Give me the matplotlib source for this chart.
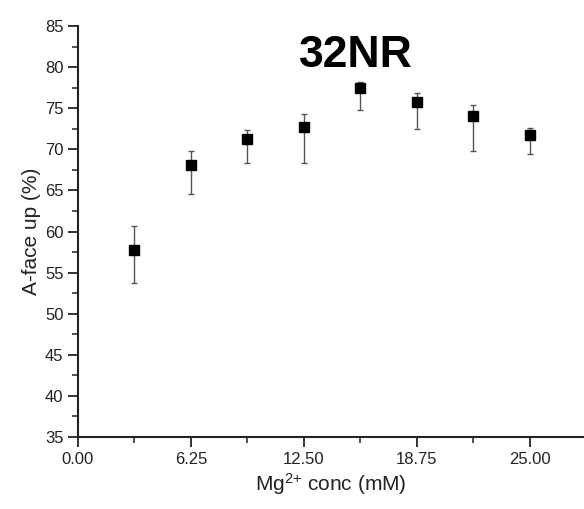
import matplotlib
matplotlib.use("Agg")
import matplotlib.pyplot as plt
from matplotlib.ticker import MultipleLocator, FormatStrFormatter

# Mg2+ concentration (mM) and A-face up percentage
mg_conc = [3.125, 6.25, 9.375, 12.5, 15.625, 18.75, 21.875, 25.0]
a_face_up = [57.7, 68.1, 71.2, 72.7, 77.4, 75.8, 74.0, 71.7]
err_low = [4.0, 3.5, 2.9, 4.4, 2.6, 3.3, 4.2, 2.3]
err_high = [3.0, 1.7, 1.2, 1.6, 0.8, 1.0, 1.4, 0.9]

plt.rcParams['font.family'] = ['Liberation Sans', 'DejaVu Sans']
plt.rcParams['mathtext.fontset'] = 'custom'
plt.rcParams['mathtext.rm'] = 'Liberation Sans'
plt.rcParams['mathtext.it'] = 'Liberation Sans:italic'
plt.rcParams['mathtext.bf'] = 'Liberation Sans:bold'

fig = plt.figure(figsize=(5.84, 5.09), dpi=100)
ax = fig.add_axes([78 / 584, 1 - 437 / 509, 1 - 78 / 584, (437 - 26) / 509])

ax.errorbar(mg_conc, a_face_up, yerr=[err_low, err_high], fmt='s',
            color='black', markersize=7, ecolor='#555555', elinewidth=1.0,
            capsize=2.5, capthick=1.0)

ax.set_xlim(0, 28.0)
ax.set_ylim(35, 85)
ax.xaxis.set_major_locator(MultipleLocator(6.25))
ax.xaxis.set_minor_locator(MultipleLocator(3.125))
ax.xaxis.set_major_formatter(FormatStrFormatter('%.2f'))
ax.yaxis.set_major_locator(MultipleLocator(5))
ax.yaxis.set_minor_locator(MultipleLocator(2.5))

for side in ['top', 'right']:
    ax.spines[side].set_visible(False)
for side in ['left', 'bottom']:
    ax.spines[side].set_linewidth(1.5)
    ax.spines[side].set_color('#222222')

ax.tick_params(which='major', direction='out', length=7, width=1.3,
               labelsize=12, pad=3.5, colors='#222222')
ax.tick_params(which='minor', direction='out', length=4.3, width=1.1,
               colors='#222222')

ax.set_xlabel(r'Mg$^{\mathregular{2{+}}}$ conc (mM)', fontsize=15,
              color='#222222', labelpad=3)
ax.set_ylabel('A-face up (%)', fontsize=15, color='#222222', labelpad=3)

ax.text(299 / 584, 1 - 67 / 509, '32NR', transform=fig.transFigure,
        fontsize=32, fontweight='bold', ha='left', va='baseline')

fig.savefig('out.png', dpi=100)
